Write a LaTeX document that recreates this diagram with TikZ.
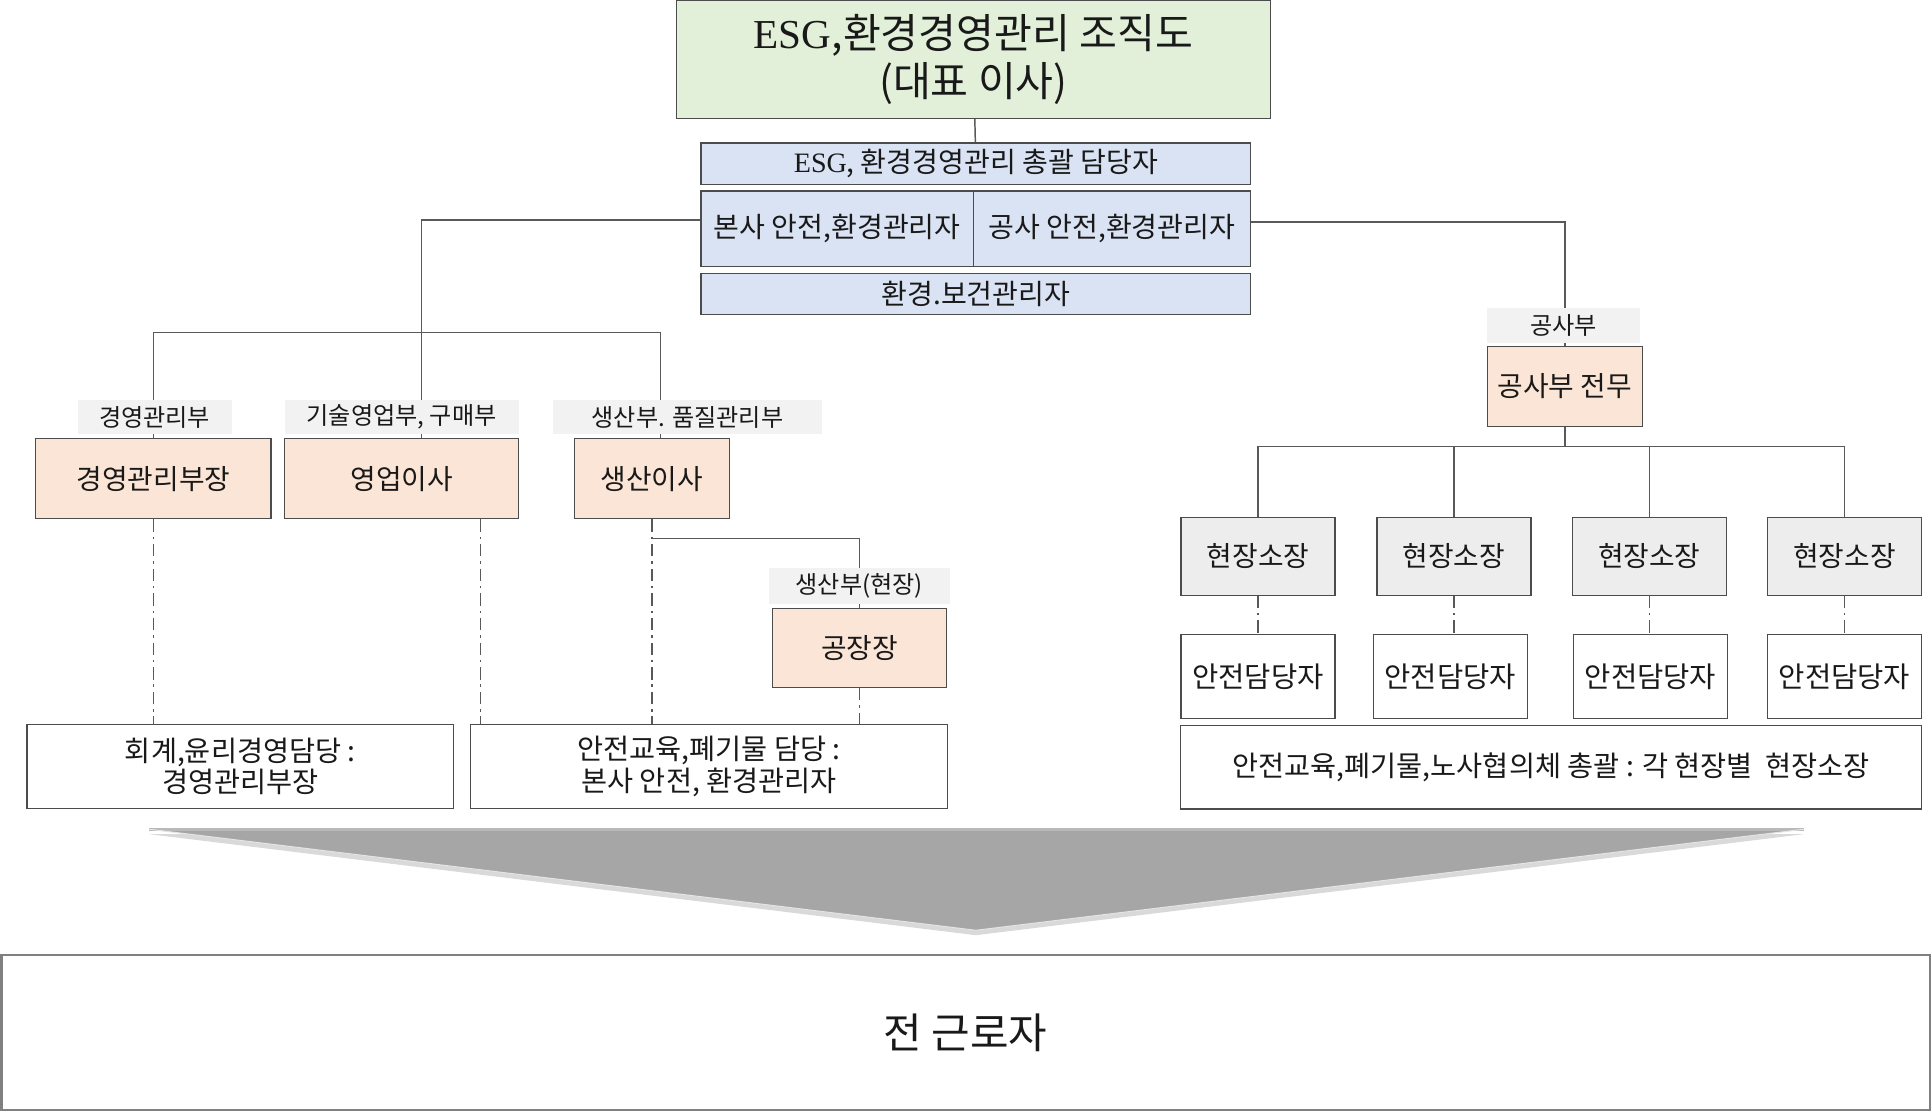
\documentclass[tikz,border=0pt]{standalone}
\usepackage{fontspec}
\setmainfont{Noto Sans CJK KR}
\newfontfamily\serifesg{Liberation Serif}
\usetikzlibrary{backgrounds,shadows}
\definecolor{topgreen}{HTML}{E2F0D9}
\definecolor{mgrblue}{HTML}{DAE3F3}
\definecolor{headpeach}{HTML}{FBE5D6}
\definecolor{deptgray}{HTML}{F2F2F2}
\definecolor{sitegray}{HTML}{EDEDED}
\definecolor{arrowgray}{HTML}{A6A6A6}
\definecolor{linegray}{HTML}{595959}

\begin{document}
\begin{tikzpicture}[x=0.5pt,y=-0.5pt,
    wh/.style 2 args={minimum width=#1*0.5pt,minimum height=#2*0.5pt},
    box/.style={draw=black!70,line width=0.5pt,inner sep=1pt,align=center,text=black!90,font=\fontsize{11.3}{13.5}\selectfont},
    topbox/.style={box,fill=topgreen,font=\fontsize{16.7}{19.5}\selectfont},
    mgrbox/.style={box,fill=mgrblue,font=\fontsize{11.4}{13.5}\selectfont},
    headbox/.style={box,fill=headpeach},
    sitebox/.style={box,fill=sitegray},
    dutybox/.style={box,font=\fontsize{11.5}{12.8}\selectfont},
    deptlbl/.style={fill=deptgray,inner sep=0pt,text=black!90,font=\fontsize{9.8}{11}\selectfont},
    conn/.style={draw=linegray,line width=0.6pt},
    dotline/.style={conn,dash pattern=on 5pt off 2pt on 1pt off 2pt}]
    \useasboundingbox (0,0) rectangle (1568,902.5);

    \node[topbox,wh={482}{96}] (title) at (790,48) {{\serifesg ESG},환경경영관리 조직도\\(대표 이사)};
    \node[mgrbox,wh={446}{34}] (esg) at (792,133) {{\serifesg ESG}, 환경경영관리 총괄 담당자};
    \node[mgrbox,wh={221}{61}] (hq) at (679.5,185.5) {본사 안전,환경관리자};
    \node[mgrbox,wh={225}{61}] (site) at (902.5,185.5) {공사 안전,환경관리자};
    \node[mgrbox,wh={446}{33}] (envh) at (792,238.5) {환경.보건관리자};

    \node[deptlbl,wh={125}{27}] (lmgmt) at (125.5,338.5) {경영관리부};
    \node[deptlbl,wh={190}{27}] (lsales) at (326,338.5) {기술영업부, 구매부};
    \node[deptlbl,wh={218}{27}] (lprod) at (558,338.5) {생산부. 품질관리부};
    \node[headbox,wh={191}{65}] (mgmt) at (124.5,388.5) {경영관리부장};
    \node[headbox,wh={190}{65}] (sales) at (326,388.5) {영업이사};
    \node[headbox,wh={126}{65}] (prod) at (529,388.5) {생산이사};
    \node[deptlbl,wh={147}{29}] (lfac) at (697.5,475.5) {생산부(현장)};
    \node[headbox,wh={141}{64}] (fac) at (697.5,526) {공장장};
    \node[dutybox,wh={346}{68}] (acct) at (195,622) {회계,윤리경영담당 :\\경영관리부장};
    \node[dutybox,wh={387}{68}] (safe) at (575.5,622) {안전교육,폐기물 담당 :\\본사 안전, 환경관리자};

    \node[deptlbl,wh={124}{28}] (lconst) at (1269,264) {공사부};
    \node[headbox,wh={126}{65}] (const) at (1270,313.5) {공사부 전무};
    \foreach \i/\x/\y in {1/1021/1021,2/1180/1177,3/1338.5/1339.5,4/1497/1497}{
        \node[sitebox,wh={125}{63}] (sm\i) at (\x,451.5) {현장소장};
        \node[box,wh={125}{68},font=\fontsize{11.6}{13.5}\selectfont] (sd\i) at (\y,549) {안전담당자};
        \draw[dotline] (sm\i.south) -- (sm\i.south |- sd\i.north);
    }
    \node[dutybox,wh={601.5}{68}] (allsite) at (1259,622.5) {안전교육,폐기물,노사협의체 총괄 : 각 현장별~~현장소장};

    \coordinate (al) at (121,673);
    \coordinate (ar) at (1464,673);
    \coordinate (ab) at (792,755);
    \fill[arrowgray,drop shadow={shadow xshift=0pt,shadow yshift=-2pt,opacity=0.3}] (al) -- (ar) -- (ab) -- cycle;
    \draw[gray!55,line width=1.2pt] (al) -- (ar);
    \draw[white!80!gray,line width=0.4pt] (al) -- (ab) -- (ar);

    \node[box,draw=gray,line width=1pt,wh={1565}{126},font=\fontsize{17}{20}\selectfont] (workers) at (783.75,838) {전 근로자};

    \begin{scope}[on background layer]
        \coordinate (jmain) at (342,270);
        \coordinate (jprod) at (536,270);
        \coordinate (jfac) at (529,437);
        \coordinate (jsite) at (1270,362.5);
        \draw[conn] (title) -- (esg);
        \draw[conn] ([yshift=3.5pt]hq.west) -| (jmain);
        \draw[conn] (jmain) -- (jmain |- sales.north);
        \draw[conn] (mgmt.north) |- (jprod) -- (jprod |- prod.north);
        \draw[conn] (jfac) -| (fac.north);
        \draw[conn] ([yshift=2.75pt]site.east) -| (const.north);
        \draw[conn] (const.south) -- (jsite);
        \draw[conn] (sm1.north) |- (jsite) -| (sm4.north);
        \draw[conn] (sm2.north) -- (sm2.north |- jsite);
        \draw[conn] (sm3.north) -- (sm3.north |- jsite);
    \end{scope}
    \draw[dotline] (mgmt.south) -- (mgmt.south |- acct.north);
    \draw[dotline] ([xshift=32pt]sales.south) -- ([xshift=32pt]sales.south |- safe.north);
    \draw[dotline] (prod.south) -- (prod.south |- safe.north);
    \draw[dotline] (fac.south) -- (fac.south |- safe.north);
\end{tikzpicture}
\end{document}
